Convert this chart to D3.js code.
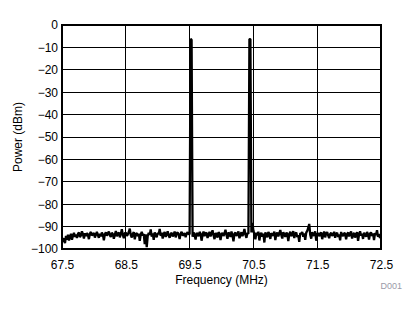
<!DOCTYPE html>
<html>
<head>
<meta charset="utf-8">
<script src="https://cdn.jsdelivr.net/npm/d3@7"></script>
<style>
  body { margin: 0; background: #fff; }
  svg text { font-family: Arial, "Liberation Sans", sans-serif; fill: #000; }
</style>
</head>
<body>
<div id="chart"></div>
<script>
// spectrum sweep: start freq, step (MHz) and power readings (dBm)
const startFreq = 67.5;
const stepFreq = 0.015625;
const power = [
  -94.8, -96.9, -95.2, -97.4, -94.1, -95.8, -93.6, -96.2, -94.5, -93.2, -95.9, -94.0, -92.8, -94.6, -93.5, -95.1,
  -93.3, -92.6, -94.7, -93.9, -92.1, -93.4, -95.3, -93.0, -94.2, -92.9, -93.7, -95.6, -93.1, -92.4, -94.0, -93.5,
  -92.8, -94.9, -93.6, -92.3, -93.8, -95.0, -93.2, -94.4, -92.7, -93.5, -96.1, -93.4, -92.5, -94.1, -93.0, -92.2,
  -93.9, -94.6, -92.8, -93.3, -95.4, -93.7, -92.0, -94.3, -93.1, -92.6, -94.8, -93.4, -91.2, -93.6, -95.2, -93.0,
  -92.7, -94.1, -93.5, -92.4, -90.9, -93.8, -94.9, -93.2, -92.5, -95.7, -93.4, -92.9, -94.3, -93.1, -96.4, -93.6,
  -92.3, -94.0, -93.3, -97.8, -93.5, -99.2, -94.2, -92.8, -93.7, -91.3, -94.5, -93.0, -95.9, -92.6, -93.8, -94.7,
  -92.9, -93.4, -91.0, -94.1, -92.7, -95.3, -93.2, -92.4, -94.6, -93.6, -92.1, -93.9, -95.0, -93.3, -92.8, -94.4,
  -93.5, -92.2, -94.8, -93.0, -92.6, -93.7, -95.5, -93.1, -92.3, -94.0, -93.6, -92.9, -94.7, -93.2, -92.5, -93.4,
  -93.4, -6.2, -6.6, -94.5, -92.6, -93.9, -95.8, -92.8, -93.5, -94.3, -92.4, -93.1, -96.3, -93.7, -92.2, -94.2,
  -93.0, -92.7, -95.1, -93.6, -92.3, -94.4, -93.2, -91.6, -93.8, -95.6, -92.9, -93.4, -94.9, -92.5, -93.1, -96.0,
  -93.5, -92.8, -94.2, -93.0, -91.4, -93.7, -95.4, -92.6, -93.3, -94.6, -92.2, -93.9, -96.6, -93.1, -92.7, -94.1,
  -93.4, -92.1, -95.2, -93.8, -92.5, -94.3, -93.0, -91.1, -93.6, -95.0, -92.9, -93.2, -6.3, -6.3, -92.6, -88.4,
  -91.8, -93.5, -95.7, -92.7, -93.9, -92.3, -96.2, -93.4, -92.8, -94.5, -93.1, -97.1, -92.6, -93.7, -94.8, -92.4,
  -93.2, -95.5, -92.9, -93.6, -94.1, -92.2, -96.0, -93.3, -92.7, -94.4, -93.0, -91.5, -93.8, -95.3, -92.5, -93.4,
  -94.6, -92.8, -93.1, -96.5, -93.5, -92.3, -94.2, -93.7, -92.0, -95.1, -93.2, -92.6, -94.7, -93.9, -96.8, -92.9,
  -93.3, -92.4, -94.5, -93.0, -95.9, -92.7, -91.9, -90.6, -88.8, -93.6, -95.4, -92.5, -93.8, -94.0, -92.1, -96.3,
  -93.4, -92.9, -94.3, -93.1, -92.6, -95.6, -93.7, -92.2, -94.8, -93.0, -92.5, -93.9, -95.2, -93.3, -92.8, -94.1,
  -93.6, -92.3, -95.0, -93.2, -92.7, -94.6, -93.5, -96.1, -92.4, -93.8, -94.2, -92.9, -93.1, -95.7, -93.4, -92.6,
  -94.4, -93.0, -92.2, -95.3, -93.7, -92.8, -94.9, -93.3, -92.5, -96.4, -93.6, -92.1, -94.0, -93.2, -95.5, -92.7,
  -93.9, -94.5, -92.4, -93.5, -95.8, -93.1, -92.6, -94.2, -93.0, -96.0, -92.9, -93.7, -91.6, -94.6, -93.3, -95.1,
  -94.2
];

const xTicks = [67.5, 68.5, 69.5, 70.5, 71.5, 72.5];
const yTicks = [0, -10, -20, -30, -40, -50, -60, -70, -80, -90, -100];

const W = 419, H = 312;
const margin = { left: 62, top: 25, right: 38, bottom: 63 };
const width = W - margin.left - margin.right;
const height = H - margin.top - margin.bottom;

const svg = d3.select("#chart").append("svg")
    .attr("width", W)
    .attr("height", H);

const g = svg.append("g")
    .attr("transform", "translate(" + margin.left + "," + margin.top + ")");

const x = d3.scaleLinear().domain([67.5, 72.5]).range([0, width]);
const y = d3.scaleLinear().domain([-100, 0]).range([height, 0]);

// grid lines
g.append("g").selectAll("line.v").data(xTicks).enter().append("line")
    .attr("x1", d => x(d)).attr("x2", d => x(d))
    .attr("y1", 0).attr("y2", height)
    .attr("stroke", "#000").attr("stroke-width", 1)
    .attr("shape-rendering", "crispEdges");
g.append("g").selectAll("line.h").data(yTicks).enter().append("line")
    .attr("x1", 0).attr("x2", width)
    .attr("y1", d => y(d)).attr("y2", d => y(d))
    .attr("stroke", "#000").attr("stroke-width", 1)
    .attr("shape-rendering", "crispEdges");

// trace
g.append("clipPath").attr("id", "clip")
    .append("rect").attr("width", width).attr("height", height);

const line = d3.line()
    .x((d, i) => x(startFreq + i * stepFreq))
    .y(d => y(d));

g.append("path")
    .datum(power)
    .attr("clip-path", "url(#clip)")
    .attr("fill", "none")
    .attr("stroke", "#000")
    .attr("stroke-width", 2.3)
    .attr("stroke-linejoin", "bevel")
    .attr("d", line);

// frame
g.append("rect")
    .attr("width", width).attr("height", height)
    .attr("fill", "none").attr("stroke", "#000").attr("stroke-width", 2);

// axes (labels only)
const xAxis = g.append("g")
    .attr("transform", "translate(0," + height + ")")
    .call(d3.axisBottom(x).tickValues(xTicks).tickSize(0).tickPadding(11).tickFormat(d3.format(".1f")));
const yAxis = g.append("g")
    .call(d3.axisLeft(y).tickValues(yTicks).tickSize(0).tickPadding(4).tickFormat(d3.format("d")));

[xAxis, yAxis].forEach(a => {
    a.select(".domain").remove();
    a.selectAll("text").style("font-size", "12px").attr("fill", "#000")
        .style("font-family", "Arial, 'Liberation Sans', sans-serif");
});

// titles
svg.append("text")
    .attr("x", margin.left + width / 2)
    .attr("y", 284)
    .attr("text-anchor", "middle")
    .style("font-size", "12px")
    .text("Frequency (MHz)");

svg.append("text")
    .attr("transform", "translate(22," + (margin.top + height / 2) + ") rotate(-90)")
    .attr("text-anchor", "middle")
    .style("font-size", "12px")
    .text("Power (dBm)");

svg.append("text")
    .attr("x", 402)
    .attr("y", 289)
    .attr("text-anchor", "end")
    .style("font-size", "9px")
    .style("fill", "#9a9aa8")
    .text("D001");
</script>
</body>
</html>
